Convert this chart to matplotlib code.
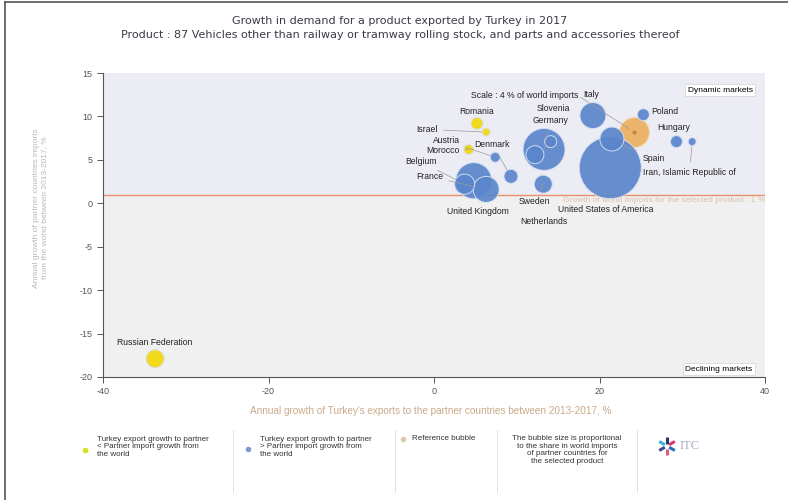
import matplotlib
matplotlib.use("Agg")
import matplotlib.pyplot as plt
from matplotlib.lines import Line2D
import numpy as np

plt.rcParams['font.family'] = ['Liberation Sans', 'DejaVu Sans']
plt.rcParams['axes.unicode_minus'] = False

# Data
countries = ["Russian Federation", "Romania", "Israel", "Morocco", "Austria", "Denmark",
             "United Kingdom", "France", "Belgium", "Germany", "Slovenia", "Netherlands",
             "Sweden", "Italy", "United States of America", "Spain", "Poland", "Hungary",
             "Iran, Islamic Republic of"]
export_growth = [-33.7, 5.2, 6.3, 4.2, 7.4, 9.3, 4.8, 6.3, 3.7, 13.3, 14.1, 12.2,
                 13.2, 19.2, 21.3, 21.5, 25.3, 29.3, 31.2]
import_growth = [-17.9, 9.2, 8.2, 6.2, 5.3, 3.1, 2.6, 1.6, 2.2, 6.2, 7.1, 5.6,
                 2.2, 10.1, 4.1, 7.4, 10.2, 7.1, 7.1]
world_share = [1.44, 0.64, 0.28, 0.44, 0.44, 0.87, 5.8, 3.0, 1.8, 7.8, 0.64, 1.44,
               1.44, 3.0, 17.1, 2.56, 0.64, 0.64, 0.28]

ref_share = 4
ref_x, ref_y = 24.2, 8.2
world_import_growth = 1

x_ticks = [-40, -20, 0, 20, 40]
y_ticks = [15, 10, 5, 0, -5, -10, -15, -20]

title = ("Growth in demand for a product exported by Turkey in 2017\n"
         "Product : 87 Vehicles other than railway or tramway rolling stock, and parts and accessories thereof")

# label layout: text position (data coords), alignment, leader line
label_pos = {
    "Russian Federation": (-33.8, -16.0, "center", False),
    "Romania": (5.1, 10.6, "center", False),
    "Israel": (-0.8, 8.5, "center", True),
    "Morocco": (1.1, 6.1, "center", True),
    "Austria": (1.5, 7.2, "center", True),
    "Denmark": (7.0, 6.8, "center", True),
    "United Kingdom": (5.3, -0.9, "center", False),
    "France": (-0.5, 3.1, "center", True),
    "Belgium": (-1.6, 4.8, "center", True),
    "Germany": (14.1, 9.5, "center", True),
    "Slovenia": (14.4, 10.9, "center", False),
    "Netherlands": (13.3, -2.1, "center", False),
    "Sweden": (12.1, 0.2, "center", True),
    "Italy": (19.0, 12.5, "center", False),
    "United States of America": (15.0, -0.7, "left", False),
    "Spain": (26.5, 5.1, "center", True),
    "Poland": (27.9, 10.6, "center", False),
    "Hungary": (29.0, 8.7, "center", False),
    "Iran, Islamic Republic of": (25.3, 3.6, "left", True),
}

BLUE = "#5b86cc"
YELLOW = "#f3d80c"
TAN = "#ebb46a"
PX_PER_SQRT_SHARE = 7.5   # bubble radius in px per sqrt(% share)
DPI = 100

fig = plt.figure(figsize=(7.88, 5.0), dpi=DPI)
ax = fig.add_axes([103 / 788, 1 - 377 / 500, 662 / 788, 304 / 500])
ax.set_xlim(-40, 40)
ax.set_ylim(-20, 15)
ax.set_facecolor("white")

# background zones
ax.axhspan(world_import_growth, 15, color="#ececf4", zorder=0)
ax.axhspan(-20, world_import_growth, color="#f0f0f0", zorder=0)
ax.axhline(world_import_growth, color="#e8906a", lw=1.0, zorder=1)
ax.text(40, world_import_growth - 0.25,
        "Growth of world imports for the selected product : %d %%" % world_import_growth,
        ha="right", va="top", fontsize=6, color="#d9bfa8", zorder=1)


def area(share):
    r_pt = PX_PER_SQRT_SHARE * np.sqrt(share) * 72 / DPI
    return (2 * r_pt) ** 2


order = np.argsort(world_share)[::-1]
xs = np.array(export_growth)
ys = np.array(import_growth)
sh = np.array(world_share)
cols = np.where(xs < ys, YELLOW, BLUE)

ax.scatter([ref_x], [ref_y], s=area(ref_share), c=TAN, edgecolors="#f6dcb6",
           linewidths=0.8, zorder=2)
ax.scatter(xs[order], ys[order], s=area(sh[order]), c=cols[order],
           edgecolors="#d6e0f2", linewidths=0.7, alpha=0.92, zorder=3)
ax.scatter([ref_x], [ref_y], s=4, c="#c08a40", zorder=3)

for name, x, y, s in zip(countries, export_growth, import_growth, world_share):
    tx, ty, ha, lead = label_pos[name]
    r_pt = PX_PER_SQRT_SHARE * np.sqrt(s) * 72 / DPI
    if lead:
        ax.annotate(name, xy=(x, y), xytext=(tx, ty), ha=ha, va="center",
                    fontsize=6.2, color="#222222", zorder=5,
                    arrowprops=dict(arrowstyle="-", color="#9a9a9a", lw=0.5,
                                    shrinkA=2, shrinkB=r_pt))
    else:
        ax.text(tx, ty, name, ha=ha, va="center", fontsize=6.2, color="#222222", zorder=5)

ax.annotate("Scale : %d %% of world imports" % ref_share, xy=(ref_x, ref_y), xytext=(10.9, 12.4),
            ha="center", va="center", fontsize=6.2, color="#222222", zorder=5,
            arrowprops=dict(arrowstyle="-", color="#9a9a9a", lw=0.5, shrinkA=0,
                            relpos=(1.0, 0.5), shrinkB=4))

box = dict(boxstyle="square,pad=0.3", fc="white", ec="#d8d8d8", lw=0.6)
ax.text(38.5, 13.0, "Dynamic markets", ha="right", va="center", fontsize=6, bbox=box, zorder=6)
ax.text(38.5, -19.1, "Declining markets", ha="right", va="center", fontsize=6, bbox=box, zorder=6)

ax.set_xticks(x_ticks)
ax.set_yticks(y_ticks)
ax.tick_params(labelsize=6.5, colors="#555555", length=4, width=0.7, direction="out")
for side in ["top", "right"]:
    ax.spines[side].set_visible(False)
for side in ["left", "bottom"]:
    ax.spines[side].set_color("#555555")
    ax.spines[side].set_linewidth(0.8)

fig.text(400 / 788, 1 - 28 / 500, title, ha="center", va="center", fontsize=8,
         color="#3a3a48", family="DejaVu Sans", linespacing=1.6)
fig.text(41 / 788, 1 - 208 / 500,
         "Annual growth of partner countries imports\nfrom the world between 2013-2017, %",
         rotation=90, ha="center", va="center", fontsize=6, color="#b8b8b8")
fig.text(431 / 788, 1 - 411 / 500,
         "Annual growth of Turkey's exports to the partner countries between 2013-2017, %",
         ha="center", va="center", fontsize=7.2, color="#caa988")

# legend strip
leg_y = 1 - 447 / 500
fig.text(97 / 788, leg_y, "Turkey export growth to partner\n< Partner import growth from\nthe world",
         ha="left", va="center", fontsize=5.8, color="#333333", linespacing=1.15)
fig.text(260 / 788, leg_y, "Turkey export growth to partner\n> Partner import growth from\nthe world",
         ha="left", va="center", fontsize=5.8, color="#333333", linespacing=1.15)
fig.text(412 / 788, 1 - 438 / 500, "Reference bubble", ha="left", va="center",
         fontsize=5.8, color="#333333")
fig.text(567 / 788, 1 - 450 / 500,
         "The bubble size is proportional\nto the share in world imports\nof partner countries for\nthe selected product",
         ha="center", va="center", fontsize=5.8, color="#333333", linespacing=1.1)
fig.add_artist(Line2D([85 / 788], [1 - 450 / 500], marker="o", ms=3, color="#d7e21a", lw=0))
fig.add_artist(Line2D([248 / 788], [1 - 449 / 500], marker="o", ms=3, color="#7c9bd4", lw=0))
fig.add_artist(Line2D([403 / 788], [1 - 439 / 500], marker="o", ms=3, color="#d7c9b2", lw=0))
for sx in [233, 395, 497, 637]:
    fig.add_artist(Line2D([sx / 788, sx / 788], [1 - 430 / 500, 1 - 492 / 500],
                          color="#e2e2e2", lw=0.7))

# ITC logo
for ang, c in [(30, "#d8336a"), (-30, "#2c6fb8"), (90, "#263a6b"), (150, "#33b8d8"),
               (-90, "#e05a7a"), (210, "#3d4f8a")]:
    a = np.deg2rad(ang)
    x0, y0 = 667 / 788, 1 - 446 / 500
    dx, dy = 5 * np.cos(a) / 788, 5 * np.sin(a) / 500
    fig.add_artist(Line2D([x0 + dx * 0.5, x0 + dx * 1.8], [y0 + dy * 0.5, y0 + dy * 1.8],
                          color=c, lw=2.2, solid_capstyle="butt"))
fig.text(680 / 788, 1 - 446 / 500, "ITC", ha="left", va="center", fontsize=9,
         color="#a5adbd", family="Liberation Serif")

# outer frame
fig.add_artist(Line2D([5 / 788, 5 / 788], [0, 1 - 2 / 500], color="#555555", lw=1.2))
fig.add_artist(Line2D([5 / 788, 1], [1 - 2 / 500, 1 - 2 / 500], color="#555555", lw=1.2))

fig.savefig("out.png", dpi=DPI)
